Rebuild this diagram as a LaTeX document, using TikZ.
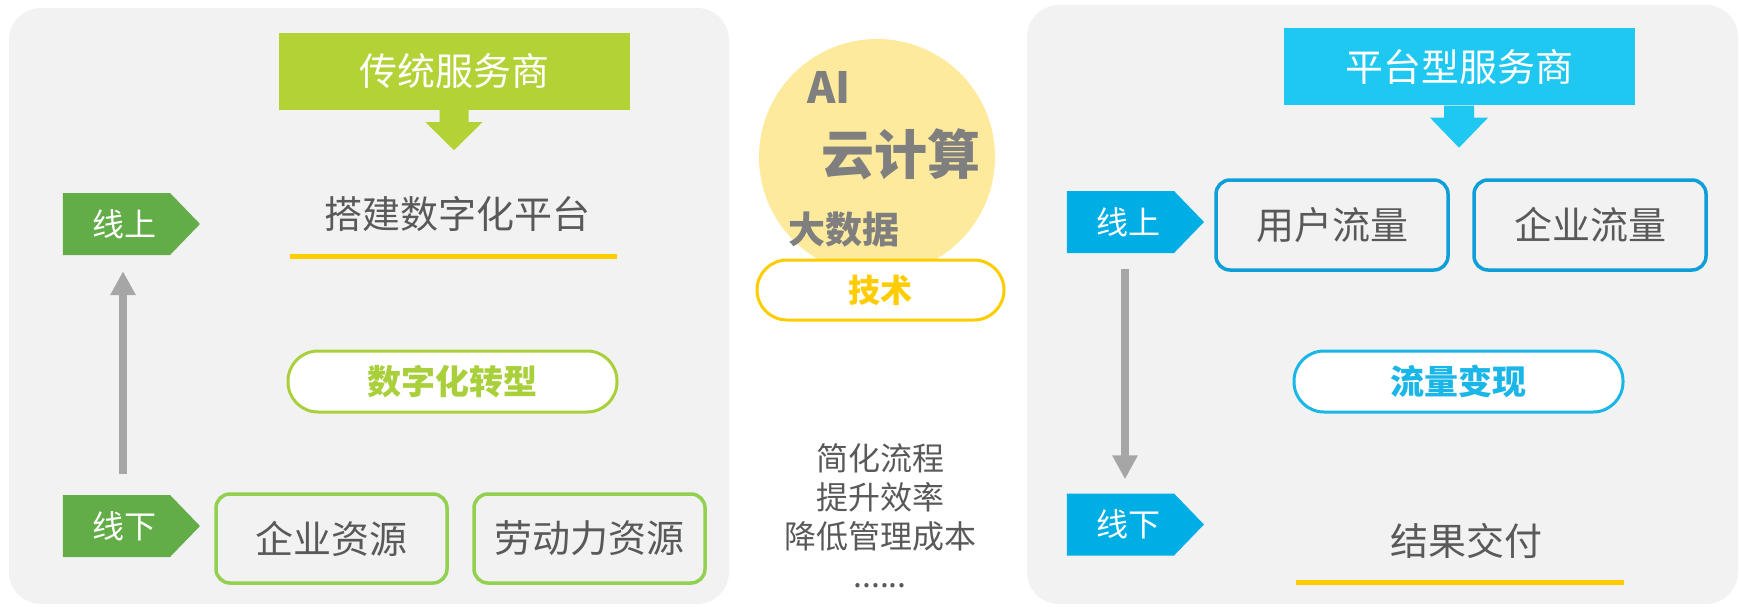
\documentclass[tikz,border=0pt]{standalone}
\usepackage{fontspec}
\setmainfont{Noto Sans CJK SC}
\usetikzlibrary{arrows.meta,shapes.symbols}
\definecolor{panelgray}{HTML}{F2F2F2}
\definecolor{leafgreen}{HTML}{B2D235}
\definecolor{taggreen}{HTML}{62AD47}
\definecolor{boxgreen}{HTML}{92D050}
\definecolor{pillgreen}{HTML}{A9D03A}
\definecolor{skyblue}{HTML}{1FC8F1}
\definecolor{tagblue}{HTML}{00AEE6}
\definecolor{boxblue}{HTML}{0E9FD8}
\definecolor{pillblue}{HTML}{1AB6E8}
\definecolor{gold}{HTML}{FFCC00}
\definecolor{cream}{HTML}{FDEA9C}
\definecolor{darktext}{HTML}{595959}
\definecolor{midgray}{HTML}{7F7F7F}
\definecolor{arrowgray}{HTML}{A6A6A6}
\begin{document}
\begin{tikzpicture}[x=1pt, y=-1pt,
    header/.style={fill=#1, text=white, font=\fontsize{38}{40}\selectfont, minimum width=351pt, minimum height=77pt, inner sep=0pt},
    tag/.style={shape=signal, signal to=east, signal pointer angle=92, fill=#1, text=white, font=\fontsize{32}{34}\selectfont, minimum width=137pt, minimum height=62pt, inner sep=0pt},
    item/.style={draw=#1, line width=3.5pt, rounded corners=14pt, minimum width=231pt, minimum height=89pt, text=darktext, font=\fontsize{38}{40}\selectfont},
    pill/.style={draw=#1, fill=white, line width=3pt, rounded corners=30pt, minimum width=329pt, minimum height=61pt, text=#1, font=\bfseries\fontsize{34}{36}\selectfont},
    plain/.style={text=darktext, font=\fontsize{38}{40}\selectfont},
    goldline/.style={draw=gold, line width=5pt},
    grayarrow/.style={draw=arrowgray, line width=8.5pt, -{Triangle[width=24pt,length=24pt]}},
    bigword/.style={text=midgray, font=\bfseries\fontsize{#1}{#1}\selectfont, inner sep=0pt}]
  \useasboundingbox (0,0) rectangle (1739,607);
  \fill[panelgray, rounded corners=32pt] (9,8) rectangle (729,604);
  \fill[panelgray, rounded corners=32pt] (1027,5) rectangle (1738,604);

  \node[header=leafgreen] (lhead) at (454,71.5) {传统服务商};
  \fill[leafgreen] (lhead.south) ++(-14.5,0) -- ++(0,12) -- ++(-14,0) -- ++(28.5,28) -- ++(28.5,-28) -- ++(-14,0) -- ++(0,-12) -- cycle;
  \node[plain] (lplat) at (457,214) {搭建数字化平台};
  \draw[goldline] (290,256.5) -- (617,256.5);
  \node[tag=taggreen] (lshang) at (116.5,224) {\hspace*{15pt}线上};
  \node[tag=taggreen] (lxia) at (116.5,526) {\hspace*{15pt}线下};
  \draw[grayarrow, shorten <=21pt, shorten >=16pt] ([xshift=6.5pt]lxia.north) -- ([xshift=6.5pt]lshang.south);
  \node[pill=pillgreen] (lpill) at (452.5,381.5) {数字化转型};
  \node[item=boxgreen] (qiye) at (331.5,538.5) {企业资源};
  \node[item=boxgreen] (laodong) at (589.5,538.5) {劳动力资源};

  \node[circle, fill=cream, minimum size=236pt] (tech) at (877,157) {};
  \node[bigword=43] (ai) at (829,87.5) {AI};
  \node[bigword=53] (yun) at (901,154) {云计算};
  \node[bigword=37] (shuju) at (844,229.5) {大数据};
  \node[pill=gold, minimum width=247pt, minimum height=60pt, font=\bfseries\fontsize{32}{34}\selectfont] (jishu) at (880.5,290) {技术};
  \node[text=darktext, align=center, font=\fontsize{32}{39}\selectfont] (gain) at (880,516) {简化流程\\提升效率\\降低管理成本\\......};

  \node[header=skyblue] (rhead) at (1459,67) {平台型服务商};
  \fill[skyblue] (rhead.south) ++(-15,0) -- ++(0,12) -- ++(-14,0) -- ++(29,30) -- ++(29,-30) -- ++(-14,0) -- ++(0,-12) -- cycle;
  \node[tag=tagblue] (rshang) at (1120.5,222) {\hspace*{15pt}线上};
  \node[tag=tagblue] (rxia) at (1120.5,524.5) {\hspace*{15pt}线下};
  \draw[grayarrow, shorten <=16pt, shorten >=14pt] ([xshift=4.5pt]rshang.south) -- ([xshift=4.5pt]rxia.north);
  \node[item=boxblue, minimum width=232pt, minimum height=90pt] (yonghu) at (1332,225) {用户流量};
  \node[item=boxblue, minimum width=232pt, minimum height=90pt] (qiyeliu) at (1590,225) {企业流量};
  \node[pill=pillblue] (rpill) at (1458.5,381.5) {流量变现};
  \node[plain] (jieguo) at (1466,540.5) {结果交付};
  \draw[goldline] (1296,582) -- (1624,582);
\end{tikzpicture}
\end{document}
